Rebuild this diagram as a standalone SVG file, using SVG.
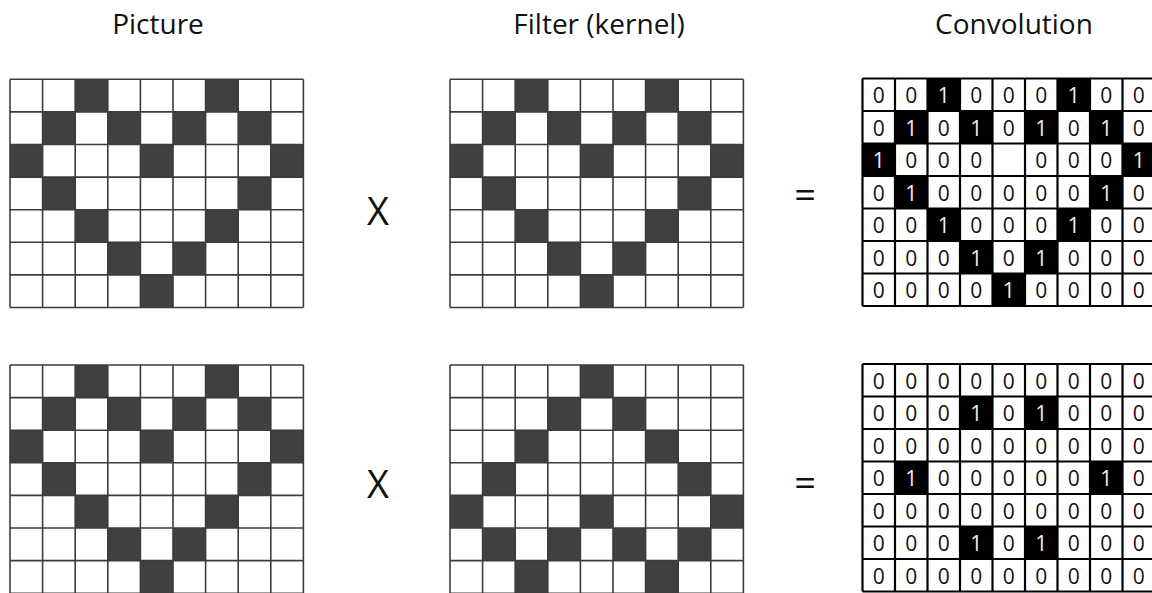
<svg xmlns="http://www.w3.org/2000/svg" xmlns:xlink="http://www.w3.org/1999/xlink" width="1152" height="593" viewBox="0 0 1152 593">
<style>
.title{font-family:"Open Sans","Liberation Sans",sans-serif;font-size:28px;fill:#111;text-anchor:middle}
.op{font-family:"Open Sans","Liberation Sans",sans-serif;font-size:38px;fill:#111;text-anchor:middle}
.grid{fill:none;stroke:#3c3c3c;stroke-width:1.6}
.dk{fill:#404040}
.bg{fill:#fff}
.cg{fill:none;stroke:#000;stroke-width:2.2}
.cb{fill:#000}
.n0{font-family:"Open Sans","Liberation Sans",sans-serif;font-size:21px;fill:#111;text-anchor:middle}
.n1{font-family:"Open Sans","Liberation Sans",sans-serif;font-size:21px;fill:#eee;text-anchor:middle}
</style>
<defs>
<g id="heart">
<rect class="bg" x="0" y="0" width="293.4" height="228.2"/>
<rect class="dk" x="65.2" y="0" width="32.6" height="32.6"/>
<rect class="dk" x="195.6" y="0" width="32.6" height="32.6"/>
<rect class="dk" x="32.6" y="32.6" width="32.6" height="32.6"/>
<rect class="dk" x="97.8" y="32.6" width="32.6" height="32.6"/>
<rect class="dk" x="163" y="32.6" width="32.6" height="32.6"/>
<rect class="dk" x="228.2" y="32.6" width="32.6" height="32.6"/>
<rect class="dk" x="0" y="65.2" width="32.6" height="32.6"/>
<rect class="dk" x="130.4" y="65.2" width="32.6" height="32.6"/>
<rect class="dk" x="260.8" y="65.2" width="32.6" height="32.6"/>
<rect class="dk" x="32.6" y="97.8" width="32.6" height="32.6"/>
<rect class="dk" x="228.2" y="97.8" width="32.6" height="32.6"/>
<rect class="dk" x="65.2" y="130.4" width="32.6" height="32.6"/>
<rect class="dk" x="195.6" y="130.4" width="32.6" height="32.6"/>
<rect class="dk" x="97.8" y="163" width="32.6" height="32.6"/>
<rect class="dk" x="163" y="163" width="32.6" height="32.6"/>
<rect class="dk" x="130.4" y="195.6" width="32.6" height="32.6"/>
<path class="grid" d="M0 0V228.2M32.6 0V228.2M65.2 0V228.2M97.8 0V228.2M130.4 0V228.2M163 0V228.2M195.6 0V228.2M228.2 0V228.2M260.8 0V228.2M293.4 0V228.2M0 0H293.4M0 32.6H293.4M0 65.2H293.4M0 97.8H293.4M0 130.4H293.4M0 163H293.4M0 195.6H293.4M0 228.2H293.4"/>
</g>
<path id="cgrid" class="cg" d="M0 0V227.5M32.5 0V227.5M65 0V227.5M97.5 0V227.5M130 0V227.5M162.5 0V227.5M195 0V227.5M227.5 0V227.5M260 0V227.5M292.5 0V227.5M0 0H300M0 32.5H300M0 65H300M0 97.5H300M0 130H300M0 162.5H300M0 195H300M0 227.5H300"/>
</defs>

<g id="titles">
<text class="title" x="158" y="34">Picture</text>
<text class="title" x="599" y="34">Filter (kernel)</text>
<text class="title" x="1014" y="34">Convolution</text>
</g>

<g id="picture-top" transform="translate(10,79.3)"><use xlink:href="#heart" href="#heart"/></g>
<g id="filter-top" transform="translate(450,79.3)"><use xlink:href="#heart" href="#heart"/></g>
<g id="picture-bottom" transform="translate(10,365)"><use xlink:href="#heart" href="#heart"/></g>
<g id="filter-bottom" transform="translate(450,365) translate(0,228.2) scale(1,-1)"><use xlink:href="#heart" href="#heart"/></g>

<g id="operators">
<text class="op" x="378" y="225">X</text>
<text class="op" x="805" y="208">=</text>
<text class="op" x="378" y="498">X</text>
<text class="op" x="805" y="496">=</text>
</g>

<g id="conv-top" transform="translate(862.5,78.5)">
<rect class="bg" x="0" y="0" width="300" height="227.5"/>
<rect class="cb" x="65" y="0" width="32.5" height="32.5"/>
<rect class="cb" x="195" y="0" width="32.5" height="32.5"/>
<rect class="cb" x="32.5" y="32.5" width="32.5" height="32.5"/>
<rect class="cb" x="97.5" y="32.5" width="32.5" height="32.5"/>
<rect class="cb" x="162.5" y="32.5" width="32.5" height="32.5"/>
<rect class="cb" x="227.5" y="32.5" width="32.5" height="32.5"/>
<rect class="cb" x="0" y="65" width="32.5" height="32.5"/>
<rect class="cb" x="260" y="65" width="32.5" height="32.5"/>
<rect class="cb" x="32.5" y="97.5" width="32.5" height="32.5"/>
<rect class="cb" x="227.5" y="97.5" width="32.5" height="32.5"/>
<rect class="cb" x="65" y="130" width="32.5" height="32.5"/>
<rect class="cb" x="195" y="130" width="32.5" height="32.5"/>
<rect class="cb" x="97.5" y="162.5" width="32.5" height="32.5"/>
<rect class="cb" x="162.5" y="162.5" width="32.5" height="32.5"/>
<rect class="cb" x="130" y="195" width="32.5" height="32.5"/>
<use xlink:href="#cgrid" href="#cgrid"/>
<text class="n0" y="24.5"><tspan x="16.25">0</tspan><tspan x="48.75">0</tspan><tspan x="113.75">0</tspan><tspan x="146.25">0</tspan><tspan x="178.75">0</tspan><tspan x="243.75">0</tspan><tspan x="276.25">0</tspan></text>
<text class="n1" y="24.5"><tspan x="81.25">1</tspan><tspan x="211.25">1</tspan></text>
<text class="n0" y="57"><tspan x="16.25">0</tspan><tspan x="81.25">0</tspan><tspan x="146.25">0</tspan><tspan x="211.25">0</tspan><tspan x="276.25">0</tspan></text>
<text class="n1" y="57"><tspan x="48.75">1</tspan><tspan x="113.75">1</tspan><tspan x="178.75">1</tspan><tspan x="243.75">1</tspan></text>
<text class="n0" y="89.5"><tspan x="48.75">0</tspan><tspan x="81.25">0</tspan><tspan x="113.75">0</tspan><tspan x="178.75">0</tspan><tspan x="211.25">0</tspan><tspan x="243.75">0</tspan></text>
<text class="n1" y="89.5"><tspan x="16.25">1</tspan><tspan x="276.25">1</tspan></text>
<text class="n0" y="122"><tspan x="16.25">0</tspan><tspan x="81.25">0</tspan><tspan x="113.75">0</tspan><tspan x="146.25">0</tspan><tspan x="178.75">0</tspan><tspan x="211.25">0</tspan><tspan x="276.25">0</tspan></text>
<text class="n1" y="122"><tspan x="48.75">1</tspan><tspan x="243.75">1</tspan></text>
<text class="n0" y="154.5"><tspan x="16.25">0</tspan><tspan x="48.75">0</tspan><tspan x="113.75">0</tspan><tspan x="146.25">0</tspan><tspan x="178.75">0</tspan><tspan x="243.75">0</tspan><tspan x="276.25">0</tspan></text>
<text class="n1" y="154.5"><tspan x="81.25">1</tspan><tspan x="211.25">1</tspan></text>
<text class="n0" y="187"><tspan x="16.25">0</tspan><tspan x="48.75">0</tspan><tspan x="81.25">0</tspan><tspan x="146.25">0</tspan><tspan x="211.25">0</tspan><tspan x="243.75">0</tspan><tspan x="276.25">0</tspan></text>
<text class="n1" y="187"><tspan x="113.75">1</tspan><tspan x="178.75">1</tspan></text>
<text class="n0" y="219.5"><tspan x="16.25">0</tspan><tspan x="48.75">0</tspan><tspan x="81.25">0</tspan><tspan x="113.75">0</tspan><tspan x="178.75">0</tspan><tspan x="211.25">0</tspan><tspan x="243.75">0</tspan><tspan x="276.25">0</tspan></text>
<text class="n1" y="219.5"><tspan x="146.25">1</tspan></text>
</g>

<g id="conv-bottom" transform="translate(862.5,364)">
<rect class="bg" x="0" y="0" width="300" height="227.5"/>
<rect class="cb" x="97.5" y="32.5" width="32.5" height="32.5"/>
<rect class="cb" x="162.5" y="32.5" width="32.5" height="32.5"/>
<rect class="cb" x="32.5" y="97.5" width="32.5" height="32.5"/>
<rect class="cb" x="227.5" y="97.5" width="32.5" height="32.5"/>
<rect class="cb" x="97.5" y="162.5" width="32.5" height="32.5"/>
<rect class="cb" x="162.5" y="162.5" width="32.5" height="32.5"/>
<use xlink:href="#cgrid" href="#cgrid"/>
<text class="n0" y="24.5"><tspan x="16.25">0</tspan><tspan x="48.75">0</tspan><tspan x="81.25">0</tspan><tspan x="113.75">0</tspan><tspan x="146.25">0</tspan><tspan x="178.75">0</tspan><tspan x="211.25">0</tspan><tspan x="243.75">0</tspan><tspan x="276.25">0</tspan></text>
<text class="n0" y="57"><tspan x="16.25">0</tspan><tspan x="48.75">0</tspan><tspan x="81.25">0</tspan><tspan x="146.25">0</tspan><tspan x="211.25">0</tspan><tspan x="243.75">0</tspan><tspan x="276.25">0</tspan></text>
<text class="n1" y="57"><tspan x="113.75">1</tspan><tspan x="178.75">1</tspan></text>
<text class="n0" y="89.5"><tspan x="16.25">0</tspan><tspan x="48.75">0</tspan><tspan x="81.25">0</tspan><tspan x="113.75">0</tspan><tspan x="146.25">0</tspan><tspan x="178.75">0</tspan><tspan x="211.25">0</tspan><tspan x="243.75">0</tspan><tspan x="276.25">0</tspan></text>
<text class="n0" y="122"><tspan x="16.25">0</tspan><tspan x="81.25">0</tspan><tspan x="113.75">0</tspan><tspan x="146.25">0</tspan><tspan x="178.75">0</tspan><tspan x="211.25">0</tspan><tspan x="276.25">0</tspan></text>
<text class="n1" y="122"><tspan x="48.75">1</tspan><tspan x="243.75">1</tspan></text>
<text class="n0" y="154.5"><tspan x="16.25">0</tspan><tspan x="48.75">0</tspan><tspan x="81.25">0</tspan><tspan x="113.75">0</tspan><tspan x="146.25">0</tspan><tspan x="178.75">0</tspan><tspan x="211.25">0</tspan><tspan x="243.75">0</tspan><tspan x="276.25">0</tspan></text>
<text class="n0" y="187"><tspan x="16.25">0</tspan><tspan x="48.75">0</tspan><tspan x="81.25">0</tspan><tspan x="146.25">0</tspan><tspan x="211.25">0</tspan><tspan x="243.75">0</tspan><tspan x="276.25">0</tspan></text>
<text class="n1" y="187"><tspan x="113.75">1</tspan><tspan x="178.75">1</tspan></text>
<text class="n0" y="219.5"><tspan x="16.25">0</tspan><tspan x="48.75">0</tspan><tspan x="81.25">0</tspan><tspan x="113.75">0</tspan><tspan x="146.25">0</tspan><tspan x="178.75">0</tspan><tspan x="211.25">0</tspan><tspan x="243.75">0</tspan><tspan x="276.25">0</tspan></text>
</g>
</svg>
